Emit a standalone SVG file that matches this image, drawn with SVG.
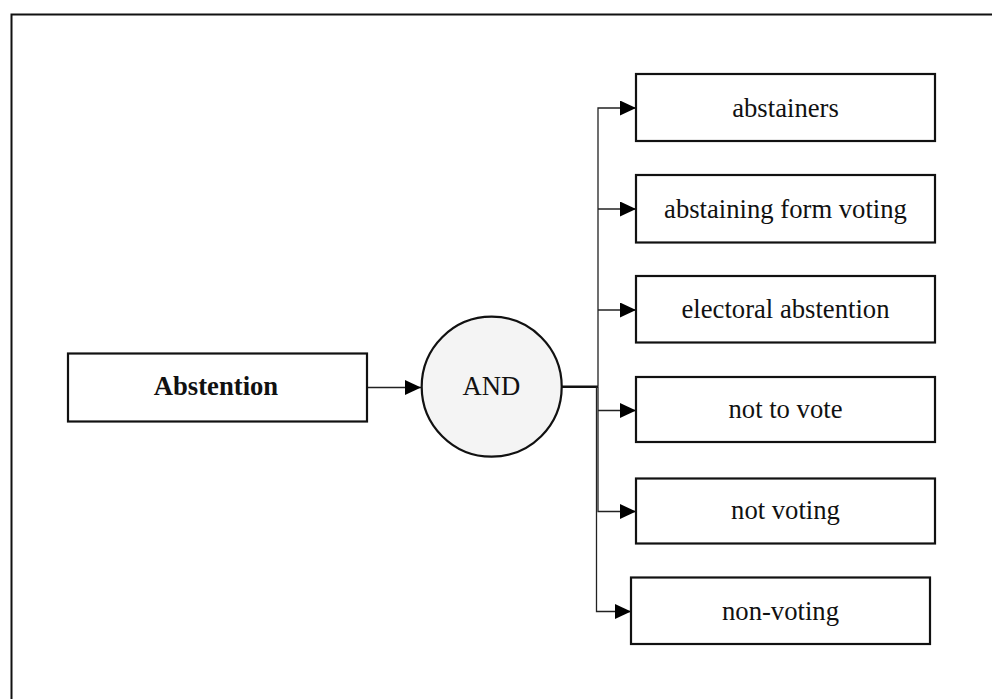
<svg xmlns="http://www.w3.org/2000/svg" width="992" height="699" viewBox="0 0 992 699">
<style>
.box{fill:#fff;stroke:#111;stroke-width:2.2}
.t{font-family:"Liberation Serif","Times New Roman",serif;font-size:26.67px;fill:#111;text-anchor:middle}
.b{font-weight:bold}
.c{fill:none;stroke:#222;stroke-width:1.3}
</style>
<defs>
<marker id="ah" markerWidth="16" markerHeight="15" refX="16" refY="7.5" orient="auto" markerUnits="userSpaceOnUse">
<path d="M0,0 L16,7.5 L0,15 Z" fill="#000"/>
</marker>
</defs>
<rect x="11.5" y="14.5" width="1000" height="700" fill="#fff" stroke="#111" stroke-width="2"/>
<g id="connectors">
<path class="c" d="M367,387.5 H421" marker-end="url(#ah)"/>
<path d="M561.5,386.7 H598" fill="none" stroke="#111" stroke-width="2.4"/>
<path class="c" d="M598,386.7 V108 H636" marker-end="url(#ah)"/>
<path class="c" d="M598,209 H636" marker-end="url(#ah)"/>
<path class="c" d="M598,310 H636" marker-end="url(#ah)"/>
<path class="c" d="M598,386.7 V511.5 H636" marker-end="url(#ah)"/>
<path class="c" d="M598,410.5 H636" marker-end="url(#ah)"/>
<path class="c" d="M596.5,386.7 V611.5 H631" marker-end="url(#ah)"/>
</g>
<g id="n-abstention">
<rect class="box" x="68" y="353.5" width="299" height="68"/>
<text class="t b" x="216" y="395">Abstention</text>
</g>
<g id="n-and">
<circle cx="491.7" cy="386.7" r="70" fill="#f4f4f4" stroke="#111" stroke-width="2.2"/>
<text class="t" x="491.5" y="394.5">AND</text>
</g>
<g id="n-abstainers">
<rect class="box" x="636" y="74" width="299" height="67"/>
<text class="t" x="785.5" y="116.5">abstainers</text>
</g>
<g id="n-abstaining">
<rect class="box" x="636" y="175" width="299" height="67.5"/>
<text class="t" x="785.5" y="217.5">abstaining form voting</text>
</g>
<g id="n-electoral">
<rect class="box" x="636" y="276" width="299" height="66.5"/>
<text class="t" x="785.5" y="318.3">electoral abstention</text>
</g>
<g id="n-nottovote">
<rect class="box" x="636" y="377" width="299" height="65"/>
<text class="t" x="785.5" y="417.5">not to vote</text>
</g>
<g id="n-notvoting">
<rect class="box" x="636" y="478.5" width="299" height="65"/>
<text class="t" x="785.5" y="519">not voting</text>
</g>
<g id="n-nonvoting">
<rect class="box" x="631" y="577.5" width="299" height="66.5"/>
<text class="t" x="780.5" y="619.5">non-voting</text>
</g>
</svg>
